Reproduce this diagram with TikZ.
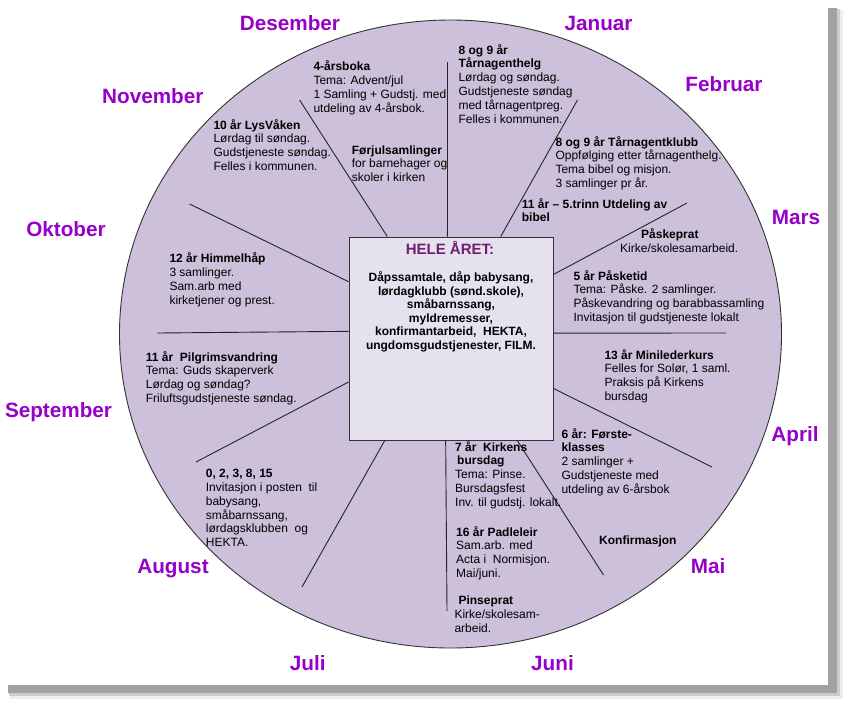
\documentclass[tikz,border=0pt]{standalone}
\usepackage{fontspec}
\setmainfont{Liberation Sans}
\definecolor{wheelfill}{RGB}{204,192,218}
\definecolor{boxfill}{RGB}{230,225,238}
\definecolor{monthcol}{RGB}{150,0,200}
\definecolor{titlecol}{RGB}{112,30,112}

\begin{document}
\begin{tikzpicture}[x=1pt,y=-1pt,
  month/.style={text=monthcol, anchor=base, inner sep=0, font=\bfseries\fontsize{20.7}{24}\selectfont},
  note/.style={align=left, anchor=base west, inner sep=0, font=\fontsize{12}{13.9}\selectfont},
  spoke/.style={draw=black!85, line width=0.9pt}]
\useasboundingbox (0,0) rectangle (845,702);
% shadow of the page
\fill[black!7] (10,10) rectangle (843,699);
\fill[black!20] (9,9) rectangle (840,696);
\fill[black!37] (8,8) rectangle (837,693);
\fill[white] (0,0) rectangle (828,685);

% the wheel
\draw[fill=wheelfill, draw=black!80, line width=0.9pt] (450.5,334) ellipse [x radius=331, y radius=314];
\node[draw=black!80, fill=boxfill, line width=0.9pt, minimum width=204pt, minimum height=203pt, inner sep=0] (year) at (451,338.5) {};

% spokes
\coordinate (s1) at (447.5,62);
\coordinate (s2) at (299.6,100);
\coordinate (s3) at (189.6,204);
\coordinate (s4) at (157,333);
\coordinate (s5) at (196,462);
\coordinate (s6) at (302,587);
\coordinate (s7) at (447,611);
\coordinate (s8) at (603.5,575);
\coordinate (s9) at (712,467);
\coordinate (s10) at (726,333);
\coordinate (s11) at (687,203);
\coordinate (s12) at (577.5,100);
\draw[spoke] (year.92) -- (s1);
\draw[spoke] (year.122.3) -- (s2);
\draw[spoke] (year.151.8) -- (s3);
\draw[spoke] (year.176.9) -- (s4);
\draw[spoke] (year.203.1) -- (s5);
\draw[spoke] (year.237.1) -- (s6);
\draw[spoke] (year.267.7) -- (s7);
\draw[spoke] (year.303.8) -- (s8);
\draw[spoke] (year.334.5) -- (s9);
\draw[spoke] (year.3.1) -- (s10);
\draw[spoke] (year.32.2) -- (s11);
\draw[spoke] (year.64.5) -- (s12);

% months
\node[month] (des) at (290,30.8) {Desember};
\node[month] (jan) at (598.6,30.8) {Januar};
\node[month] (feb) at (724,91.4) {Februar};
\node[month] (mar) at (796,224.4) {Mars};
\node[month] (apr) at (795,441) {April};
\node[month] (mai) at (708,573) {Mai};
\node[month] (jun) at (552.5,670) {Juni};
\node[month] (jul) at (307.7,670) {Juli};
\node[month] (aug) at (173,573) {August};
\node[month] (sep) at (58.5,417) {September};
\node[month] (okt) at (66,236) {Oktober};
\node[month] (nov) at (152.8,103.3) {November};

% the whole year (base = last line)
\node[text=titlecol, anchor=base, inner sep=0, font=\bfseries\fontsize{15}{18}\selectfont] (title) at (450,254.3) {HELE ÅRET:};
\node[align=center, anchor=base, inner sep=0, font=\bfseries\fontsize{12}{13.5}\selectfont] (allyear) at (451,349.2)
  {Dåpssamtale, dåp babysang,\\lørdagklubb (sønd.skole),\\småbarnssang,\\myldremesser,\\konfirmantarbeid,\ \ HEKTA,\\ungdomsgudstjenester, FILM.};

% activities (placed by the baseline of their last line)
\node[note] (arsboka) at (313.3,112.4) {\textbf{4-årsboka}\\Tema: Advent/jul\\1 Samling + Gudstj. med\\utdeling av 4-årsbok.};
\node[note] (forjul) at (351.7,181.8) {\textbf{Førjulsamlinger}\\for barnehager og\\skoler i kirken};
\node[note] (helg) at (458.3,123.5) {\textbf{8 og 9 år}\\\textbf{Tårnagenthelg}\\Lørdag og søndag.\\Gudstjeneste søndag\\med tårnagentpreg.\\Felles i kommunen.};
\node[note] (klubb) at (555.3,187.7) {\textbf{8 og 9 år Tårnagentklubb}\\Oppfølging etter tårnagenthelg.\\Tema bibel og misjon.\\3 samlinger pr år.};
\node[note] (bibel) at (521.7,221.9) {\textbf{11 år – 5.trinn Utdeling av}\\\textbf{bibel}};
\node[note] (paskeprat) at (620,252) {\hspace*{21pt}\textbf{Påskeprat}\\Kirke/skolesamarbeid.};
\node[note] (pasketid) at (573.3,321.7) {\textbf{5 år Påsketid}\\Tema: Påske. 2 samlinger.\\Påskevandring og barabbassamling\\Invitasjon til gudstjeneste lokalt};
\node[note] (mini) at (604.3,400.7) {\textbf{13 år Minilederkurs}\\Felles for Solør, 1 saml.\\Praksis på Kirkens\\bursdag};
\node[note] (forste) at (561.3,493.6) {\textbf{6 år: Første-}\\\textbf{klasses}\\2 samlinger +\\Gudstjeneste med\\utdeling av 6-årsbok};
\node[note] (konf) at (599,544) {\textbf{Konfirmasjon}};
\node[note] (kirkebursdag) at (455,506.6) {\textbf{7 år\ \ Kirkens}\\\hspace*{2pt}\textbf{bursdag}\\Tema: Pinse.\\Bursdagsfest\\Inv. til gudstj. lokalt.};
\node[note] (padle) at (456,577.7) {\textbf{16 år Padleleir}\\Sam.arb. med\\Acta i\ \ Normisjon.\\Mai/juni.};
\node[note] (pinse) at (454.3,632) {\hspace*{4pt}\textbf{Pinseprat}\\Kirke/skolesam-\\arbeid.};
\node[note] (lysvaken) at (213.3,170.7) {\textbf{10 år LysVåken}\\Lørdag til søndag.\\Gudstjeneste søndag.\\Felles i kommunen.};
\node[note] (himmel) at (169.3,304) {\textbf{12 år Himmelhåp}\\3 samlinger.\\Sam.arb med\\kirketjener og prest.};
\node[note] (pilgrim) at (145.7,402.7) {\textbf{11 år\ \ Pilgrimsvandring}\\Tema: Guds skaperverk\\Lørdag og søndag?\\Friluftsgudstjeneste søndag.};
\node[note] (invitasjon) at (205.7,546.8) {\textbf{0, 2, 3, 8, 15}\\Invitasjon i posten\ \ til\\babysang,\\småbarnssang,\\lørdagsklubben\ \ og\\HEKTA.};
\end{tikzpicture}
\end{document}
